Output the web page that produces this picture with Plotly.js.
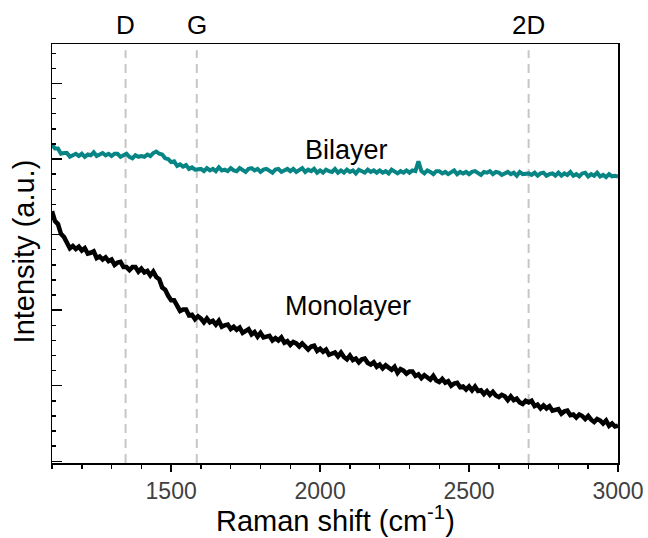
<!DOCTYPE html>
<html>
<head>
<meta charset="utf-8">
<script src="https://cdn.plot.ly/plotly-3.0.1.min.js"></script>
<style>html,body{margin:0;padding:0;background:#fff;}#chart{width:648px;height:538px;}</style>
</head>
<body>
<div id="chart"></div>
<script>
// Raman shift grid (cm^-1)
const ramanShift = [
1100,1110,1120,1130,1140,1150,1160,1170,1180,1190,
1200,1210,1220,1230,1240,1250,1260,1270,1280,1290,
1300,1310,1320,1330,1340,1350,1360,1370,1380,1390,
1400,1410,1420,1430,1440,1450,1460,1470,1480,1490,
1500,1510,1520,1530,1540,1550,1560,1570,1580,1590,
1600,1610,1620,1630,1640,1650,1660,1670,1680,1690,
1700,1710,1720,1730,1740,1750,1760,1770,1780,1790,
1800,1810,1820,1830,1840,1850,1860,1870,1880,1890,
1900,1910,1920,1930,1940,1950,1960,1970,1980,1990,
2000,2010,2020,2030,2040,2050,2060,2070,2080,2090,
2100,2110,2120,2130,2140,2150,2160,2170,2180,2190,
2200,2210,2220,2230,2240,2250,2260,2270,2280,2290,
2300,2310,2320,2330,2340,2350,2360,2370,2380,2390,
2400,2410,2420,2430,2440,2450,2460,2470,2480,2490,
2500,2510,2520,2530,2540,2550,2560,2570,2580,2590,
2600,2610,2620,2630,2640,2650,2660,2670,2680,2690,
2700,2710,2720,2730,2740,2750,2760,2770,2780,2790,
2800,2810,2820,2830,2840,2850,2860,2870,2880,2890,
2900,2910,2920,2930,2940,2950,2960,2970,2980,2990,
3000];

// Bilayer intensity (a.u., offset)
const bilayer = [
4.19,4.14,4.14,4.07,4.08,4.08,4.03,4.05,4.07,4.04,
4.07,4.03,4.06,4.05,4.09,4.04,4.06,4.08,4.05,4.07,
4.04,4.07,4.07,4.03,4.05,4.07,4.03,4.01,4.05,4.03,
4.04,4.03,4.06,4.04,4.08,4.10,4.07,4.06,4.01,4.00,
3.96,3.97,3.91,3.93,3.90,3.92,3.87,3.89,3.86,3.87,
3.87,3.84,3.88,3.85,3.87,3.84,3.89,3.85,3.86,3.84,
3.88,3.85,3.84,3.88,3.86,3.83,3.87,3.88,3.85,3.87,
3.83,3.86,3.87,3.84,3.82,3.86,3.87,3.83,3.85,3.87,
3.84,3.87,3.83,3.85,3.88,3.83,3.86,3.84,3.87,3.82,
3.85,3.82,3.86,3.84,3.83,3.87,3.82,3.85,3.82,3.86,
3.83,3.85,3.81,3.86,3.84,3.82,3.86,3.83,3.85,3.82,
3.85,3.82,3.84,3.81,3.86,3.83,3.81,3.84,3.82,3.85,
3.82,3.85,3.84,3.97,3.84,3.81,3.85,3.83,3.80,3.84,
3.84,3.81,3.83,3.80,3.82,3.85,3.80,3.83,3.81,3.83,
3.80,3.83,3.84,3.81,3.79,3.83,3.82,3.84,3.80,3.83,
3.82,3.79,3.81,3.83,3.80,3.82,3.78,3.83,3.80,3.81,
3.81,3.79,3.82,3.78,3.81,3.82,3.78,3.80,3.81,3.78,
3.82,3.78,3.81,3.79,3.83,3.78,3.80,3.77,3.81,3.82,
3.77,3.80,3.78,3.82,3.77,3.79,3.76,3.80,3.77,3.78,
3.77];

// Monolayer intensity (a.u.)
const monolayer = [
3.31,3.18,3.14,3.01,2.97,2.90,2.82,2.85,2.81,2.84,
2.79,2.82,2.75,2.76,2.78,2.69,2.71,2.67,2.70,2.65,
2.67,2.60,2.63,2.64,2.57,2.57,2.53,2.57,2.57,2.51,
2.55,2.50,2.52,2.46,2.51,2.44,2.41,2.30,2.27,2.19,
2.13,2.13,2.06,1.99,2.01,2.01,1.93,1.94,1.88,1.92,
1.89,1.84,1.89,1.84,1.86,1.81,1.86,1.78,1.80,1.81,
1.75,1.78,1.74,1.77,1.70,1.73,1.75,1.68,1.71,1.65,
1.70,1.64,1.65,1.66,1.60,1.63,1.60,1.64,1.57,1.59,
1.54,1.58,1.56,1.52,1.56,1.51,1.48,1.52,1.53,1.46,
1.49,1.45,1.48,1.41,1.43,1.44,1.39,1.44,1.38,1.35,
1.40,1.34,1.36,1.31,1.35,1.36,1.30,1.28,1.31,1.25,
1.28,1.23,1.27,1.24,1.21,1.25,1.17,1.22,1.20,1.16,
1.19,1.19,1.13,1.15,1.10,1.14,1.11,1.08,1.13,1.07,
1.05,1.09,1.04,1.06,1.00,1.03,1.04,0.98,0.99,0.95,
0.99,0.94,0.99,0.93,0.94,0.89,0.93,0.88,0.92,0.87,
0.85,0.88,0.86,0.81,0.86,0.81,0.83,0.78,0.76,0.80,
0.78,0.80,0.73,0.75,0.70,0.74,0.70,0.73,0.67,0.68,
0.69,0.63,0.66,0.67,0.61,0.62,0.58,0.62,0.60,0.56,
0.60,0.55,0.52,0.56,0.54,0.50,0.54,0.47,0.50,0.46,
0.47];

// Reference peak positions
const peakNames = ["D", "G", "2D"];
const peakPositions = [1347, 1586, 2700];

// Curve labels
const curveLabels = ["Bilayer", "Monolayer"];
const curveLabelX = [2090, 2095];
const curveLabelY = [4.12, 2.06];

const font = "Arial, 'Liberation Sans', sans-serif";

const traces = [
  {x: ramanShift, y: monolayer, type: 'scatter', mode: 'lines', name: 'Monolayer',
   line: {color: '#000000', width: 4.5}},
  {x: ramanShift, y: bilayer, type: 'scatter', mode: 'lines', name: 'Bilayer',
   line: {color: '#078585', width: 4}}
];

const shapes = peakPositions.map(p => ({
  type: 'line', xref: 'x', yref: 'paper', x0: p, x1: p, y0: 0, y1: 0.985,
  layer: 'below', line: {color: '#c6c6c6', width: 2, dash: '9px,6px'}
}));

const annotations = [];
peakNames.forEach((n, i) => annotations.push({
  x: peakPositions[i], xref: 'x', y: 1, yref: 'paper', yanchor: 'bottom', yshift: 2,
  text: n, showarrow: false, font: {family: font, size: 26, color: '#000'}
}));
curveLabels.forEach((n, i) => annotations.push({
  x: curveLabelX[i], xref: 'x', y: curveLabelY[i], yref: 'y',
  text: n, showarrow: false, font: {family: font, size: 27, color: '#000'}
}));
annotations.push({
  x: 0.5, xref: 'paper', xanchor: 'center', y: 0, yref: 'paper', yanchor: 'middle', yshift: -56,
  text: 'Raman shift (cm<sup>-1</sup>)', showarrow: false, font: {family: font, size: 29, color: '#000'}
});
annotations.push({
  x: 0, xref: 'paper', xanchor: 'center', xshift: -28, y: 0.505, yref: 'paper', yanchor: 'middle',
  text: 'Intensity (a.u.)', textangle: -90, showarrow: false, font: {family: font, size: 29, color: '#000'}
});

const layout = {
  width: 648, height: 538,
  margin: {l: 52, r: 30, t: 44, b: 75},
  paper_bgcolor: '#fff', plot_bgcolor: '#fff',
  showlegend: false,
  xaxis: {
    range: [1100, 3000], tick0: 1000, dtick: 500,
    showgrid: false, zeroline: false,
    showline: true, linecolor: '#000', linewidth: 1.5, mirror: true,
    ticks: 'outside', ticklen: 7, tickwidth: 1.5, tickcolor: '#000',
    tickfont: {family: font, size: 23, color: '#404040'},
    minor: {dtick: 100, ticks: 'outside', ticklen: 4, tickwidth: 1.5, tickcolor: '#000', showgrid: false}
  },
  yaxis: {
    range: [-0.0225, 5.523], tick0: 0, dtick: 1,
    showgrid: false, zeroline: false, showticklabels: false,
    showline: true, linecolor: '#000', linewidth: 1.5, mirror: true,
    ticks: 'inside', ticklen: 10, tickwidth: 1.5, tickcolor: '#000',
    minor: {dtick: 0.2, ticks: 'inside', ticklen: 4, tickwidth: 1.5, tickcolor: '#000', showgrid: false}
  },
  shapes: shapes,
  annotations: annotations
};

Plotly.newPlot('chart', traces, layout, {displayModeBar: false, staticPlot: true});
</script>
</body>
</html>
